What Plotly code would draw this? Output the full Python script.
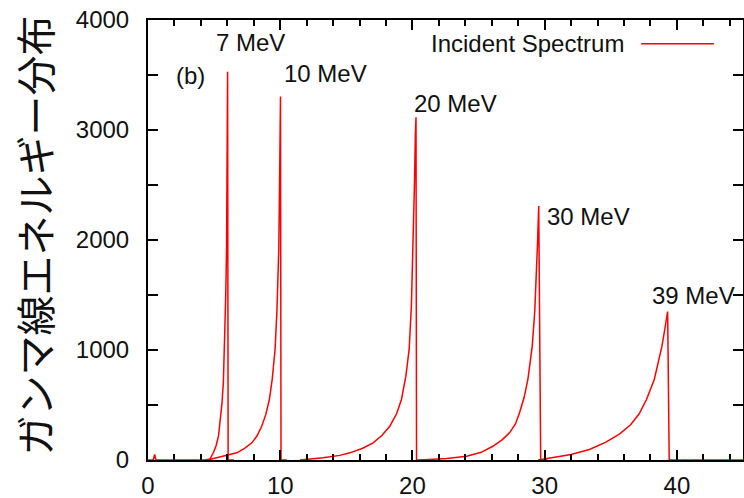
import plotly.graph_objects as go

# ---- data ----
x_7mev = [0.0, 0.4, 0.5, 0.6, 4.3, 4.7, 4.95, 5.15, 5.33, 5.5, 5.6, 5.7, 5.8, 5.88, 5.94, 5.98, 6.02, 6.06, 6.5]
y_7mev = [0, 0, 50, 0, 0, 10, 68, 130, 216, 380, 520, 705, 1050, 1500, 1914, 2800, 3530, 0, 0]

x_10mev = [4.5, 5.2, 6.0, 6.72, 7.3, 7.85, 8.25, 8.6, 8.9, 9.18, 9.4, 9.61, 9.75, 9.89, 9.95, 10.0, 10.02, 10.06, 10.5]
y_10mev = [0, 20, 40, 65, 105, 156, 220, 307, 410, 550, 740, 1005, 1350, 1914, 2500, 3100, 3305, 0, 0]

x_20mev = [11.5, 13.25, 14.5, 15.27, 16.2, 17.03, 17.7, 18.29, 18.8, 19.17, 19.5, 19.75, 19.92, 20.05, 20.15, 20.22, 20.27, 20.31, 21.0]
y_20mev = [0, 20, 42, 65, 105, 156, 225, 307, 420, 550, 760, 1005, 1400, 1914, 2500, 2950, 3115, 0, 0]

x_30mev = [20.5, 22.6, 24.1, 25.2, 26.08, 26.8, 27.34, 27.8, 28.1, 28.45, 28.73, 29.06, 29.25, 29.36, 29.47, 29.55, 29.7, 30.2]
y_30mev = [0, 14, 35, 70, 125, 185, 247, 330, 429, 570, 732, 1035, 1350, 1641, 2000, 2310, 0, 0]

x_39mev = [29.5, 30.6, 32.0, 33.38, 34.6, 35.65, 36.5, 37.15, 37.7, 38.29, 38.6, 38.87, 39.1, 39.3, 39.42, 40.0, 45.0]
y_39mev = [0, 25, 50, 95, 160, 235, 320, 420, 550, 732, 880, 1035, 1200, 1350, 0, 0, 0]

peak_labels = ["7 MeV", "10 MeV", "20 MeV", "30 MeV", "39 MeV"]
label_x = [5.0, 10.1, 20.0, 30.0, 38.0]
label_y = [3800, 3510, 3240, 2210, 1500]

x_ticks = [0, 10, 20, 30, 40]
y_ticks = [0, 1000, 2000, 3000, 4000]

series = [(x_7mev, y_7mev), (x_10mev, y_10mev), (x_20mev, y_20mev),
          (x_30mev, y_30mev), (x_39mev, y_39mev)]

RED = "#ff0000"
FONT = "Liberation Sans, Arial, sans-serif"
TXT = "#111111"

fig = go.Figure()
for i, (xs, ys) in enumerate(series):
    fig.add_trace(go.Scatter(
        x=xs, y=ys, mode="lines",
        line=dict(color=RED, width=1.5),
        name="Incident Spectrum", showlegend=False,
        hoverinfo="skip"))

annotations = []
for t, ax, ay in zip(peak_labels, label_x, label_y):
    annotations.append(dict(x=ax, y=ay, xref="x", yref="y", text=t,
                            showarrow=False, xanchor="left", yanchor="middle",
                            font=dict(family=FONT, size=24, color=TXT)))
annotations.append(dict(x=2.0, y=3500, xref="x", yref="y", text="(b)",
                        showarrow=False, xanchor="left", yanchor="middle",
                        font=dict(family=FONT, size=24, color=TXT)))
# legend (text left, line sample right)
annotations.append(dict(x=0.803, y=0.946, xref="paper", yref="paper",
                        text="Incident Spectrum", showarrow=False,
                        xanchor="right", yanchor="middle",
                        font=dict(family=FONT, size=24, color=TXT)))
# y-axis title
annotations.append(dict(x=-0.191, y=0.511, xref="paper", yref="paper",
                        text="ガンマ線エネルギー分布", showarrow=False, textangle=-90,
                        xanchor="center", yanchor="middle",
                        font=dict(family="Noto Sans CJK JP", size=40, color=TXT)))

fig.add_shape(type="line", xref="paper", yref="paper",
              x0=0.829, x1=0.951, y0=0.946, y1=0.946,
              line=dict(color=RED, width=1.5))

fig.update_layout(
    width=744, height=498,
    margin=dict(l=148, r=1, t=20, b=38),
    paper_bgcolor="white", plot_bgcolor="white",
    showlegend=False,
    annotations=annotations,
    font=dict(family=FONT, size=24, color=TXT),
)

fig.update_xaxes(
    range=[0, 45], tickvals=x_ticks, ticktext=[str(v) for v in x_ticks],
    showgrid=False, zeroline=False, automargin=False,
    showline=True, linecolor="black", linewidth=2, mirror="allticks",
    ticks="inside", ticklen=10, tickwidth=1.5, tickcolor="black",
    minor=dict(dtick=2, ticks="inside", ticklen=6, tickwidth=1.5, tickcolor="black", showgrid=False),
    tickfont=dict(family=FONT, size=24, color=TXT),
    ticklabelstandoff=3,
)
fig.update_yaxes(
    range=[0, 4000], tickvals=y_ticks, ticktext=[str(v) for v in y_ticks],
    showgrid=False, zeroline=False, automargin=False,
    showline=True, linecolor="black", linewidth=2, mirror="allticks",
    ticks="inside", ticklen=10, tickwidth=1.5, tickcolor="black",
    minor=dict(dtick=500, ticks="inside", ticklen=10, tickwidth=1.5, tickcolor="black", showgrid=False),
    tickfont=dict(family=FONT, size=24, color=TXT),
    ticklabelstandoff=12,
)

fig.write_html("out.html",
               config={"displayModeBar": False},
               post_script="document.body.style.margin='0';document.body.style.overflow='hidden';")
